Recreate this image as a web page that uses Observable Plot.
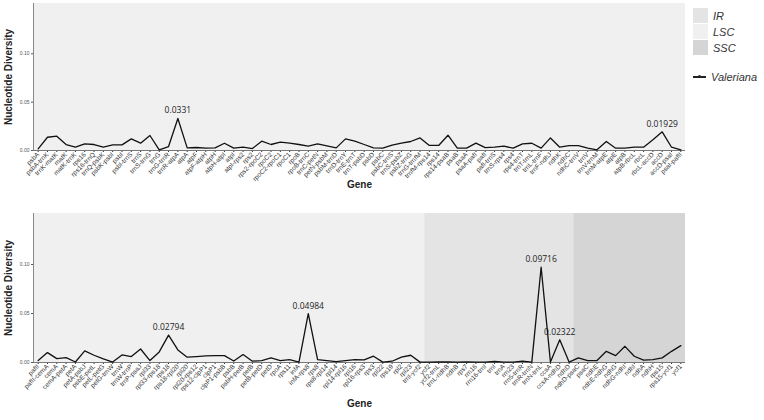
<!DOCTYPE html>
<html>
<head>
<meta charset="utf-8">
<script src="https://cdn.jsdelivr.net/npm/d3@7"></script>
<script src="https://cdn.jsdelivr.net/npm/@observablehq/plot@0.6"></script>
<style>
  body { margin: 0; background: #fff; font-family: "Liberation Sans", Arial, sans-serif; }
  #wrap { position: relative; width: 764px; height: 420px; overflow: hidden; }
  #top { position: absolute; left: 0; top: 0; }
  #bottom { position: absolute; left: 0; top: 210px; }
  #legend { position: absolute; left: 693px; top: 8px; font-style: italic; font-size: 11px; color: #333; }
  .row { display: flex; align-items: center; height: 15px; margin-bottom: 1px; }
  .sw { width: 15px; height: 15px; margin-right: 5px; }
  .ln { width: 13px; height: 15px; margin-right: 5px; position: relative; }
  .ln::before { content: ""; position: absolute; left: 0; right: 0; top: 7px; height: 1.5px; background: #222; }
  .ln::after { content: ""; position: absolute; left: 5px; top: 6px; width: 3px; height: 3px; border-radius: 2px; background: #222; }
</style>
</head>
<body>
<div id="wrap">
  <div id="top"></div>
  <div id="bottom"></div>
  <div id="legend"></div>
</div>
<script>
// ---------- data ----------
const topGenes = ["psbA","psbA-trnK","trnK-matK","matK","matK-trnK","rps16","rps16-trnQ","trnQ-psbK","psbK-psbI","psbI",
  "psbI-trnS","trnS","trnS-trnG","trnG","trnG-trnR","trnR-atpA","atpA","atpF","atpF-atpH","atpH",
  "atpH-atpI","atpI","atpI-rps2","rps2","rps2-rpoC2","rpoC2","rpoC2-rpoC1","rpoC1","rpoB","rpoB-trnC",
  "trnC-petN","petN-psbM","psbM-trnD","trnD-trnY","trnE-trnT","trnT-psbD","psbD","psbC","psbC-trnS","trnS-psbZ",
  "psbZ-trnG","trnG-trnfM","trnfM-rps14","rps14","rps14-psaB","psaB","psaA","psaA-pafI","pafI","pafI-trnS",
  "trnS-rps4","rps4","rps4-trnT","trnT-trnL","trnL-trnF","trnF-ndhJ","ndhK","ndhC","ndhC-trnV","trnV",
  "trnV-trnM","trnM-atpE","atpE","atpB","atpB-rbcL","rbcL","rbcL-accD","accD","accD-psaI","psaI-pafII"];
const topValues = [0.0017,0.0137,0.0148,0.0062,0.0034,0.0069,0.0062,0.0034,0.0058,0.0058,
  0.0120,0.0076,0.0155,0.0007,0.0041,0.0331,0.0027,0.0031,0.0024,0.0027,
  0.0075,0.0024,0.0034,0.0020,0.0096,0.0062,0.0086,0.0076,0.0062,0.0045,
  0.0069,0.0048,0.0027,0.0120,0.0096,0.0062,0.0027,0.0024,0.0055,0.0076,
  0.0093,0.0130,0.0052,0.0052,0.0158,0.0024,0.0024,0.0076,0.0030,0.0034,
  0.0045,0.0024,0.0069,0.0075,0.0024,0.0130,0.0034,0.0051,0.0051,0.0024,
  0.0007,0.0093,0.0024,0.0024,0.0034,0.0034,0.0110,0.01929,0.0034,0.0007];
const topLabelled = ["trnR-atpA","accD"];
const topRegions = Array(70).fill("LSC");

const bottomGenes = ["pafII","pafII-cemA","cemA","cemA-petA","petA","petA-psbJ","psbE-petL","petL-petG","petG-trnW","trnW",
  "trnW-trnP","trnP-psaJ","rpl33","rpl33-rps18","rps18","rps18-rpl20","rpl20","rpl20-rps12","rps12-clpP1","clpP1",
  "clpP1-psbB","psbB","psbH-petB","petB","petB-petD","petD","rpoA","rps11","infA","infA-rps8",
  "rps8","rps8-rpl14","rpl14","rpl14-rpl16","rpl16","rpl16-rps3","rps3","rpl22","rps19","rpl2",
  "rpl23","trnI-ycf2","ycf2","ycf2-trnL","trnL-ndhB","ndhB","rps7","rrn16","rrn16-trnI","trnI",
  "trnA","rrn23","rrn5-trnR","trnR-trnN","trnN-trnL","ccsA","ccsA-ndhD","ndhD","ndhD-psaC","psaC",
  "ndhE","ndhE-ndhG","ndhG","ndhG-ndhI","ndhI","ndhA","ndhH","rps15","rps15-ycf1","ycf1"];
const bottomValues = [0.0020,0.0101,0.0040,0.0050,0.0005,0.0118,0.0074,0.0037,0.0004,0.0077,
  0.0060,0.0138,0.0020,0.0108,0.02794,0.0128,0.0054,0.0060,0.0067,0.0070,
  0.0070,0.0015,0.0081,0.0013,0.0020,0.0047,0.0020,0.0030,0.0004,0.04984,
  0.0030,0.0020,0.0008,0.0020,0.0030,0.0027,0.0064,0.0004,0.0013,0.0054,
  0.0074,0.0004,0.0004,0.0005,0.0007,0.0004,0.0005,0.0004,0.0004,0.0010,
  0.0004,0.0004,0.0013,0.0004,0.09716,0.0004,0.02322,0.0004,0.0047,0.0020,
  0.0020,0.0114,0.0070,0.0165,0.0064,0.0024,0.0030,0.0047,0.0114,0.0172];
const bottomLabelled = ["rps18","infA-rps8","trnN-trnL","ccsA-ndhD"];
const bottomRegions = [].concat(Array(42).fill("LSC"), Array(16).fill("IR"), Array(12).fill("SSC"));

const regionNames = ["IR","LSC","SSC"];
const regionColors = ["#e4e4e4","#f0f0f0","#d5d5d5"];
const seriesName = "Valeriana";
const yTicks = [0, 0.05, 0.10];
const yMax = 0.152;

// ---------- drawing ----------
const font = "'Liberation Sans', Arial, sans-serif";
const regionColor = Object.fromEntries(regionNames.map((r, i) => [r, regionColors[i]]));

function panel(genes, values, regions, labelled, height, marginBottom, titleOffset) {
  const data = genes.map((g, i) => ({i: i + 1, gene: g, v: values[i], region: regions[i]}));
  const spans = [];
  for (const d of data) {
    const last = spans[spans.length - 1];
    if (last && last.region === d.region) last.x2 = d.i + 0.5;
    else spans.push({region: d.region, x1: d.i - 0.5, x2: d.i + 0.5});
  }
  const peaks = data.filter(d => labelled.includes(d.gene));
  return Plot.plot({
    width: 690,
    height,
    marginLeft: 33,
    marginRight: 5,
    marginTop: 3,
    marginBottom,
    style: {fontFamily: font, background: "transparent"},
    x: {domain: [0.5, genes.length + 0.5]},
    y: {domain: [0, yMax]},
    marks: [
      Plot.rect(spans, {x1: "x1", x2: "x2", y1: 0, y2: yMax, fill: d => regionColor[d.region]}),
      Plot.axisY({ticks: yTicks, tickFormat: d3.format(".2f"), tickSize: 2, tickPadding: 2, fontSize: 5, color: "#555", label: null}),
      Plot.axisX({ticks: data.map(d => d.i), tickFormat: i => genes[i - 1], tickRotate: -45, textAnchor: "end",
                  tickSize: 2, tickPadding: 1, fontSize: 6.5, color: "#333", label: null}),
      Plot.ruleY([0], {stroke: "#777", strokeWidth: 1}),
      Plot.ruleX([0.5], {stroke: "#888", strokeWidth: 1}),
      Plot.line(data, {x: "i", y: "v", stroke: "#111", strokeWidth: 1.3}),
      Plot.text(peaks, {x: "i", y: "v", text: d => String(d.v), dy: -5, lineAnchor: "bottom",
                        fontSize: 8.5, fill: "#222", fontFamily: "'Open Sans', sans-serif"}),
      Plot.text(["Gene"], {frameAnchor: "bottom", dy: titleOffset, fontWeight: "bold", fontSize: 10, fill: "#222"}),
      Plot.text(["Nucleotide Diversity"], {frameAnchor: "left", textAnchor: "middle", dx: -25, rotate: -90,
                                           fontWeight: "bold", fontSize: 10, fill: "#222"})
    ]
  });
}

document.getElementById("top").append(panel(topGenes, topValues, topRegions, topLabelled, 200, 50, 37));
document.getElementById("bottom").append(panel(bottomGenes, bottomValues, bottomRegions, bottomLabelled, 210, 58, 44));

// legend
const leg = document.getElementById("legend");
regionNames.forEach((r, i) => {
  const row = document.createElement("div");
  row.className = "row";
  row.innerHTML = `<div class="sw" style="background:${regionColors[i]}"></div><span>${r}</span>`;
  leg.append(row);
});
const lrow = document.createElement("div");
lrow.className = "row";
lrow.style.marginTop = "14px";
lrow.innerHTML = `<div class="ln"></div><span>${seriesName}</span>`;
leg.append(lrow);
</script>
</body>
</html>
